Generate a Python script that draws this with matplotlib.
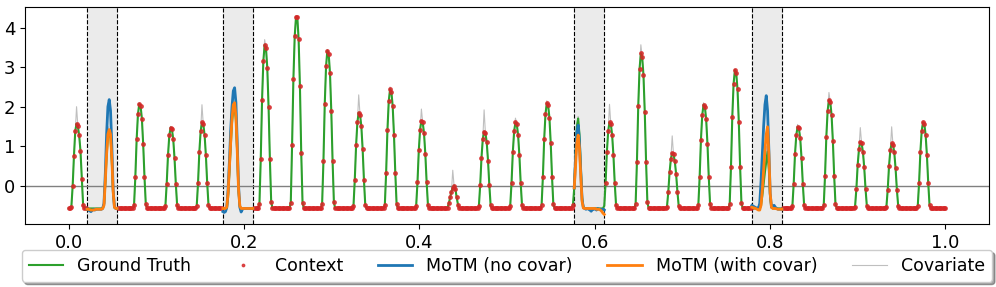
import numpy as np
import matplotlib.pyplot as plt

# 28 days x 24 steps, time normalised to [0, 1]
n_days = 24 * 28
t = np.linspace(0, 1, n_days)
baseline = -0.58

# daytime values (steps 2..11 of each day)
gt_days = [
    [-0.55, -0.02, 0.75, 1.38, 1.57, 1.50, 1.27, 0.88, 0.17, -0.48],
    [-0.56, -0.48, 0.05, 0.75, 1.25, 1.35, 1.20, 0.60, -0.20, -0.55],
    [-0.50, 0.22, 1.17, 1.81, 2.07, 2.02, 1.70, 1.06, 0.22, -0.47],
    [-0.52, 0.04, 0.77, 1.27, 1.47, 1.43, 1.18, 0.69, 0.04, -0.50],
    [-0.51, 0.07, 0.86, 1.38, 1.60, 1.56, 1.29, 0.77, 0.07, -0.49],
    [-0.30, 0.35, 1.00, 1.60, 1.95, 2.00, 1.65, 0.80, -0.15, -0.52],
    [-0.46, 0.67, 2.16, 3.16, 3.57, 3.49, 2.99, 1.99, 0.67, -0.41],
    [-0.43, 1.03, 2.70, 3.78, 4.28, 4.27, 3.71, 2.52, 0.83, -0.43],
    [-0.46, 0.62, 2.06, 3.02, 3.42, 3.34, 2.86, 1.90, 0.62, -0.42],
    [-0.51, 0.15, 1.02, 1.61, 1.85, 1.80, 1.51, 0.93, 0.15, -0.48],
    [-0.49, 0.33, 1.41, 2.14, 2.44, 2.38, 2.02, 1.29, 0.33, -0.46],
    [-0.51, 0.09, 0.89, 1.42, 1.64, 1.60, 1.33, 0.80, 0.09, -0.49],
    [-0.56, -0.45, -0.30, -0.15, -0.05, 0.00, -0.08, -0.30, -0.48, -0.57],
    [-0.52, 0.01, 0.71, 1.18, 1.37, 1.33, 1.10, 0.63, 0.01, -0.50],
    [-0.51, 0.07, 0.86, 1.38, 1.60, 1.56, 1.29, 0.77, 0.07, -0.49],
    [-0.50, 0.22, 1.18, 1.82, 2.09, 2.04, 1.72, 1.08, 0.22, -0.47],
    [-0.50, -0.06, 0.80, 1.50, 1.70, 1.30, 0.50, -0.30, -0.55, -0.58],
    [-0.51, 0.07, 0.86, 1.38, 1.60, 1.56, 1.29, 0.77, 0.07, -0.49],
    [-0.46, 0.60, 2.01, 2.96, 3.35, 3.27, 2.80, 1.86, 0.60, -0.42],
    [-0.54, -0.16, 0.34, 0.68, 0.82, 0.79, 0.62, 0.29, -0.16, -0.52],
    [-0.50, 0.21, 1.16, 1.79, 2.05, 2.00, 1.68, 1.05, 0.21, -0.47],
    [-0.47, 0.47, 1.74, 2.58, 2.93, 2.86, 2.44, 1.60, 0.47, -0.44],
    [-0.50, -0.25, 0.05, 0.35, 0.60, 0.86, 0.40, -0.30, -0.55, -0.58],
    [-0.52, 0.04, 0.79, 1.28, 1.49, 1.45, 1.20, 0.70, 0.04, -0.50],
    [-0.50, 0.25, 1.24, 1.90, 2.17, 2.12, 1.79, 1.13, 0.25, -0.47],
    [-0.53, -0.08, 0.53, 0.93, 1.10, 1.07, 0.86, 0.46, -0.08, -0.51],
    [-0.53, -0.10, 0.50, 0.90, 1.07, 1.04, 0.84, 0.44, -0.10, -0.51],
    [-0.51, 0.07, 0.86, 1.38, 1.60, 1.56, 1.29, 0.77, 0.07, -0.49],
]

# covariate daily peak (step 6), otherwise it follows the ground truth
cov_peaks = [2.00, 1.50, 2.10, 1.50, 2.05, 2.10, 3.70, 4.30, 3.45, 2.30,
             2.50, 1.94, 0.39, 1.92, 1.71, 2.15, 1.75, 2.06, 3.57, 1.26,
             2.10, 2.95, 1.00, 1.55, 2.36, 1.47, 1.49, 1.64]

# masked windows (start, end index)
gaps = [(14, 37), (118, 141), (387, 410), (523, 546)]

pred_no_covar = [
    [-0.60, -0.62, -0.64, -0.66, -0.63, -0.60, -0.62, -0.60, -0.60, -0.60,
     -0.60, -0.60, -0.58, -0.45, 0.30, 1.30, 2.00, 2.18, 1.90, 1.00,
     -0.10, -0.55, -0.58, -0.58],
    [-0.66, -0.68, -0.66, -0.55, -0.10, 0.60, 1.40, 2.00, 2.40, 2.48,
     2.10, 1.10, 0.00, -0.55, -0.67, -0.60, -0.58, -0.58, -0.58, -0.58,
     -0.58, -0.58, -0.58, -0.58],
    [-0.06, 0.70, 1.35, 1.53, 1.10, 0.35, -0.35, -0.56, -0.58, -0.60,
     -0.58, -0.60, -0.62, -0.65, -0.60, -0.60, -0.58, -0.62, -0.58, -0.60,
     -0.60, -0.62, -0.60, -0.62],
    [-0.50, -0.52, -0.54, -0.56, -0.57, -0.58, -0.45, 0.10, 0.80, 1.50,
     2.05, 2.28, 1.90, 0.90, -0.20, -0.55, -0.52, -0.50, -0.55, -0.58,
     -0.60, -0.60, -0.60, -0.60],
]

pred_with_covar = [
    [-0.60, -0.60, -0.61, -0.62, -0.62, -0.62, -0.61, -0.60, -0.60, -0.60,
     -0.60, -0.60, -0.58, -0.50, 0.10, 0.80, 1.30, 1.42, 1.30, 0.70,
     -0.15, -0.55, -0.58, -0.58],
    [-0.58, -0.58, -0.58, -0.55, -0.20, 0.45, 1.10, 1.70, 2.05, 2.10,
     1.75, 0.90, -0.10, -0.52, -0.58, -0.58, -0.58, -0.58, -0.58, -0.58,
     -0.58, -0.58, -0.58, -0.58],
    [-0.06, 0.50, 1.10, 1.28, 0.95, 0.25, -0.40, -0.57, -0.58, -0.58,
     -0.58, -0.58, -0.58, -0.58, -0.58, -0.58, -0.58, -0.60, -0.60, -0.60,
     -0.62, -0.65, -0.70, -0.73],
    [-0.55, -0.56, -0.57, -0.58, -0.60, -0.62, -0.62, -0.50, -0.10, 0.40,
     0.90, 1.30, 1.49, 0.80, -0.20, -0.55, -0.58, -0.58, -0.58, -0.59,
     -0.60, -0.60, -0.60, -0.60],
]

gt = np.full(n_days, baseline)
cov = np.full(n_days, baseline)
for d, vals in enumerate(gt_days):
    gt[d * 24 + 2:d * 24 + 12] = vals
    cov[d * 24 + 2:d * 24 + 12] = vals
    cov[d * 24 + 6] = cov_peaks[d]

ctx = np.ones(n_days, dtype=bool)
for s, e in gaps:
    ctx[s:e + 1] = False

fig = plt.figure(figsize=(9.96, 2.87), dpi=100)
ax = fig.add_axes([0.025, 0.22, 0.968, 0.756])

for s, e in gaps:
    ax.axvspan(t[s], t[e], color="#ebebeb", zorder=0)
    ax.axvline(t[s], color="black", linestyle="--", linewidth=0.8, zorder=1)
    ax.axvline(t[e], color="black", linestyle="--", linewidth=0.8, zorder=1)

ax.axhline(0, color="gray", linewidth=1, zorder=1)

ax.plot(t, gt, color="tab:green", linewidth=1.5, label="Ground Truth", zorder=3)
ax.plot(t[ctx], gt[ctx], ".", color="tab:red", markersize=5, alpha=0.8,
        label="Context", zorder=4)
for i, (s, e) in enumerate(gaps):
    ax.plot(t[s:e + 1], pred_no_covar[i], color="tab:blue", linewidth=2,
            label="MoTM (no covar)" if i == 0 else None, zorder=5)
for i, (s, e) in enumerate(gaps):
    ax.plot(t[s:e + 1], pred_with_covar[i], color="tab:orange", linewidth=2,
            label="MoTM (with covar)" if i == 0 else None, zorder=6)
ax.plot(t, cov, color="gray", linewidth=0.8, alpha=0.5, label="Covariate", zorder=2)

ax.set_ylim(-0.97, 4.53)
ax.set_xticks([0.0, 0.2, 0.4, 0.6, 0.8, 1.0])
ax.set_yticks([0, 1, 2, 3, 4])
ax.tick_params(labelsize=13)

ax.legend(loc="upper center", bbox_to_anchor=(0.5, -0.08), ncol=5,
          fontsize=12.5, shadow=True, markerscale=0.7)

fig.savefig("out.png", dpi=100)
